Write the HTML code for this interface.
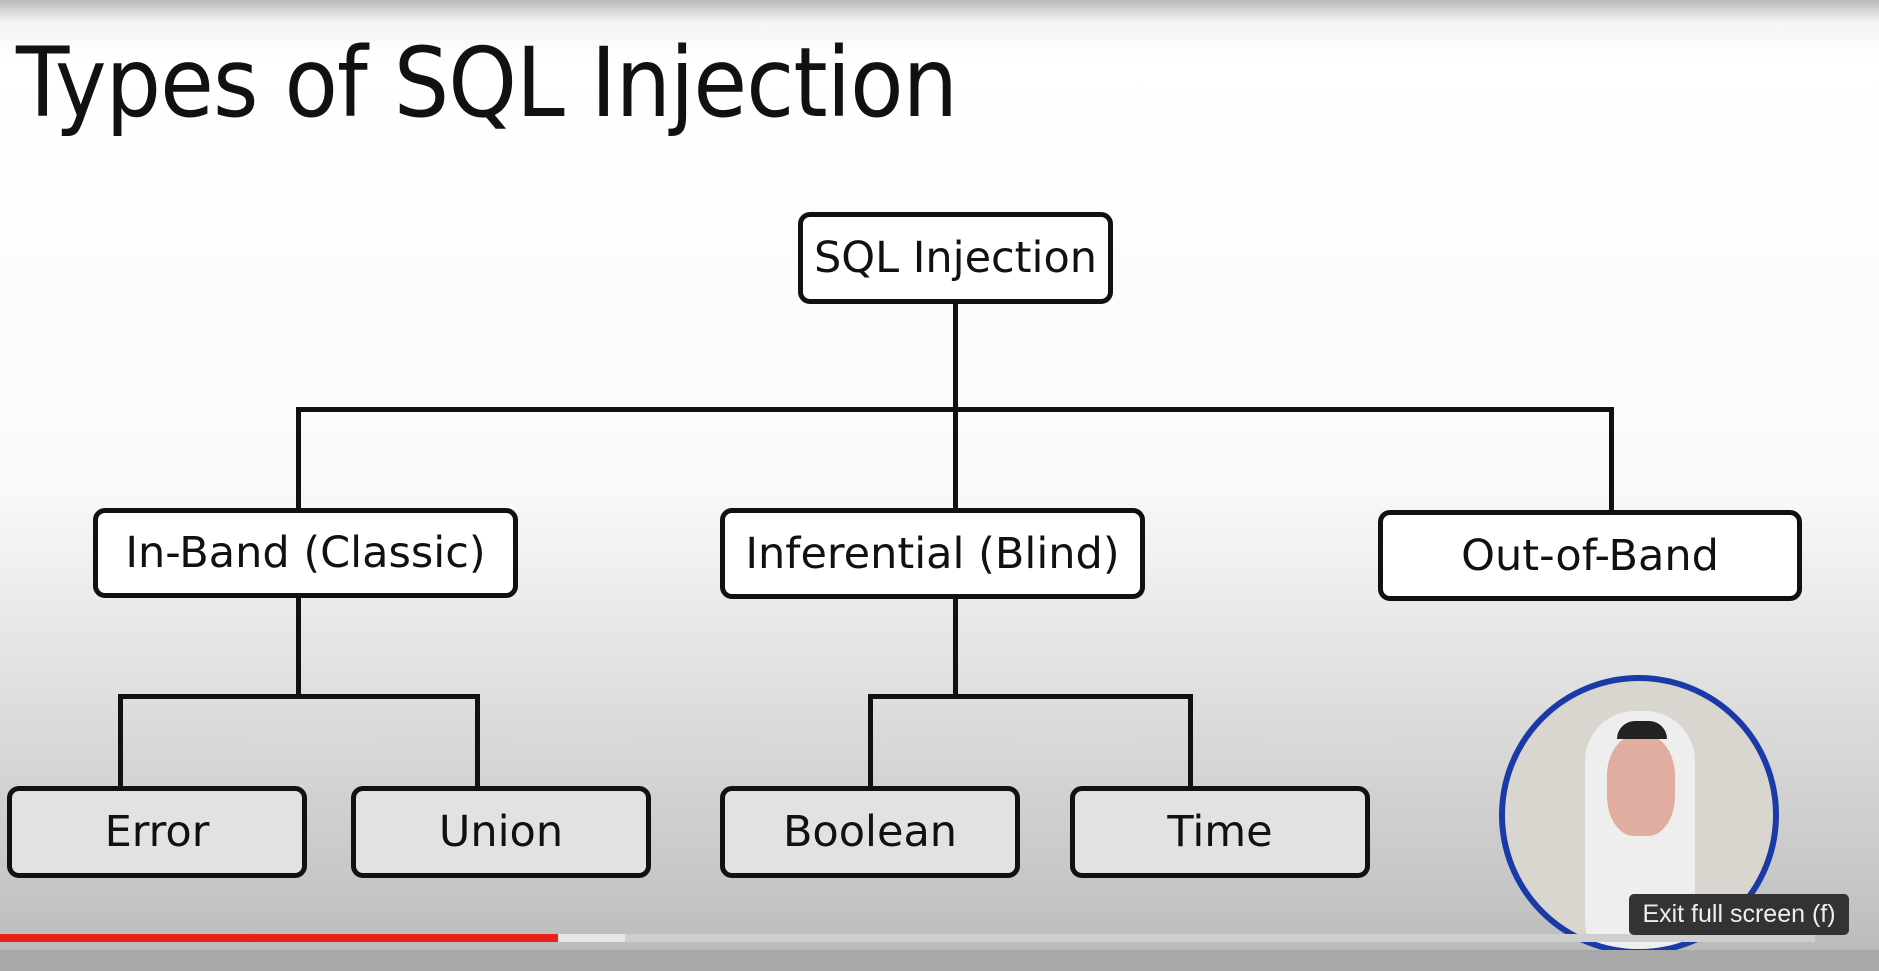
<!DOCTYPE html>
<html><head><style>
html,body{margin:0;padding:0}
body{width:1879px;height:971px;overflow:hidden;position:relative;font-family:"Liberation Sans","DejaVu Sans",sans-serif;
background:linear-gradient(to bottom,#b9b9b9 0px,#f4f4f4 22px,#ffffff 60px,#fafafa 480px,#dedede 700px,#c4c4c4 900px,#b8b8b8 971px);}
.t{position:absolute;left:16px;top:27px;font-size:96px;color:#111;letter-spacing:-1px;font-family:"DejaVu Sans","Liberation Sans",sans-serif;font-weight:normal;transform:scaleX(0.91);transform-origin:left}
.b{position:absolute;box-sizing:border-box;border:5px solid #111;border-radius:12px;background:#fff;display:flex;align-items:center;justify-content:center;font-size:43px;color:#111;font-family:"DejaVu Sans","Liberation Sans",sans-serif}
.g{background:#e2e2e2}
.l{position:absolute;background:#111}
</style></head><body>
<div class="t">Types of SQL Injection</div>
<div class="b" style="left:798px;top:212px;width:315px;height:92px">SQL Injection</div>
<div class="l" style="left:953px;top:302px;width:5px;height:208px"></div>
<div class="l" style="left:296px;top:407px;width:1318px;height:5px"></div>
<div class="l" style="left:296px;top:407px;width:5px;height:103px"></div>
<div class="l" style="left:1609px;top:407px;width:5px;height:105px"></div>
<div class="b" style="left:93px;top:508px;width:425px;height:90px">In-Band (Classic)</div>
<div class="b" style="left:720px;top:508px;width:425px;height:91px">Inferential (Blind)</div>
<div class="b" style="left:1378px;top:510px;width:424px;height:91px">Out-of-Band</div>
<div class="l" style="left:296px;top:596px;width:5px;height:100px"></div>
<div class="l" style="left:118px;top:694px;width:362px;height:5px"></div>
<div class="l" style="left:118px;top:694px;width:5px;height:94px"></div>
<div class="l" style="left:475px;top:694px;width:5px;height:94px"></div>
<div class="l" style="left:953px;top:597px;width:5px;height:99px"></div>
<div class="l" style="left:868px;top:694px;width:325px;height:5px"></div>
<div class="l" style="left:868px;top:694px;width:5px;height:94px"></div>
<div class="l" style="left:1188px;top:694px;width:5px;height:94px"></div>
<div class="b g" style="left:7px;top:786px;width:300px;height:92px">Error</div>
<div class="b g" style="left:351px;top:786px;width:300px;height:92px">Union</div>
<div class="b g" style="left:720px;top:786px;width:300px;height:92px">Boolean</div>
<div class="b g" style="left:1070px;top:786px;width:300px;height:92px">Time</div>
<div style="position:absolute;left:1499px;top:675px;width:280px;height:280px;border-radius:50%;border:6px solid #1a3aa8;overflow:hidden;background:#d9d5cf;box-sizing:border-box">
 <div style="position:absolute;left:80px;top:30px;width:110px;height:260px;border-radius:50px;background:#eeeeee"></div>
 <div style="position:absolute;left:102px;top:55px;width:68px;height:100px;border-radius:40%;background:#e0ada0"></div>
 <div style="position:absolute;left:112px;top:40px;width:50px;height:18px;background:#222;border-radius:20px 20px 0 0"></div>
</div>
<div style="position:absolute;left:0;top:934px;width:558px;height:8px;background:#e62117"></div>
<div style="position:absolute;left:558px;top:934px;width:67px;height:8px;background:#e6e6e6"></div>
<div style="position:absolute;left:625px;top:934px;width:1190px;height:8px;background:#cfcfcf"></div>
<div style="position:absolute;left:0;top:950px;width:1879px;height:21px;background:#a8a8a8"></div>
<div style="position:absolute;left:1629px;top:894px;width:220px;height:41px;border-radius:5px;background:#333;color:#eee;font-size:25px;display:flex;align-items:center;justify-content:center">Exit full screen (f)</div>
</body></html>
